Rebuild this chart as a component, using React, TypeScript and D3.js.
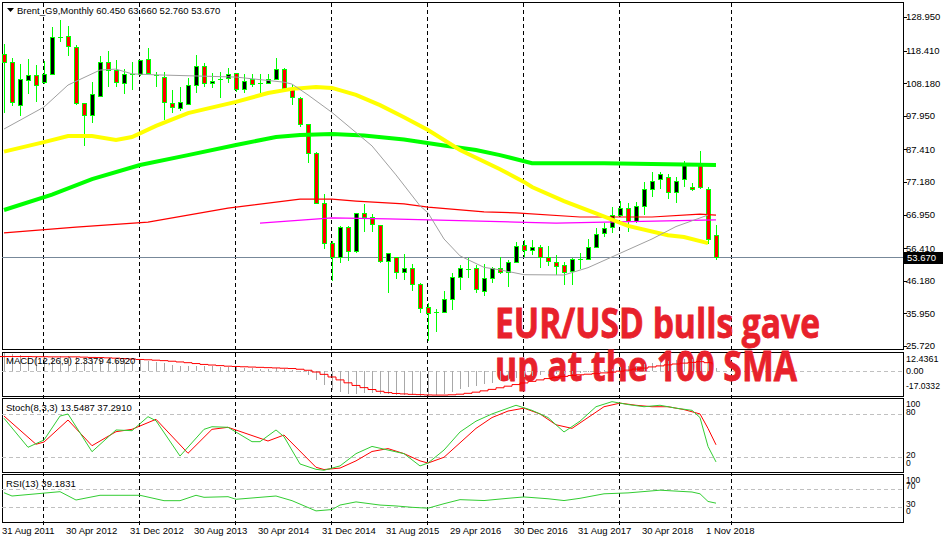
import React from "react";
import * as d3 from "d3";

// ---------- DATA ----------
const symbolTitle = "Brent_G9,Monthly";
const lastOHLC = ["60.450", "63.660", "52.760", "53.670"];
const macdTitle = "MACD(12,26,9) 2.3379 4.6920";
const stochTitle = "Stoch(8,3,3) 13.5487 37.2910";
const rsiTitle = "RSI(13) 39.1831";

const opens = [117.34,114.74,101.34,109.09,110.66,108.46,111.16,122.83,122.99,119.44,101.87,98.20,104.26,114.74,112.23,108.15,110.81,110.97,115.68,110.69,110.22,101.87,100.30,101.65,107.61,113.58,108.15,109.18,109.72,111.28,106.26,109.40,108.24,108.15,109.40,112.54,106.26,103.44,95.38,86.18,70.50,58.00,53.55,62.96,55.62,67.36,66.29,63.59,52.39,53.55,48.94,50.10,45.08,37.86,35.98,36.48,40.37,47.46,49.88,50.10,43.07,46.96,50.10,48.94,51.98,57.32,55.84,56.69,53.74,51.98,51.23,49.16,53.02,53.11,56.88,61.08,62.96,66.82,69.11,64.94,69.65,74.89,78.03,78.65,74.13,78.02,75.70,83.05,74.89,60.45];
const highs = [120.48,116.18,114.20,115.77,113.89,115.14,125.81,128.01,126.13,120.16,101.97,108.56,116.71,118.28,115.46,112.63,114.92,115.46,119.22,111.79,111.79,106.04,107.08,109.72,117.03,114.42,111.47,111.79,112.85,111.38,111.07,111.07,111.07,111.07,115.99,112.85,107.61,103.94,95.38,86.69,73.41,58.67,63.37,63.37,67.45,70.27,67.14,63.69,54.90,53.65,54.59,51.45,45.58,39.12,37.24,42.98,48.53,51.14,53.24,51.14,51.45,50.41,53.74,52.61,58.45,58.98,58.98,57.41,57.10,54.27,51.98,53.24,54.81,59.20,62.65,64.22,69.43,71.31,70.50,71.00,77.27,80.41,80.32,79.69,78.84,83.86,76.77,87.00,75.52,63.66];
const lows = [98.83,101.12,97.98,104.70,102.37,108.08,110.75,121.20,116.81,101.34,88.57,95.60,104.16,107.08,107.08,104.70,106.05,110.44,110.97,107.08,96.63,98.73,99.55,101.34,105.01,107.08,106.58,103.44,108.15,105.51,105.20,106.89,103.94,107.93,109.40,105.51,101.34,94.53,83.05,70.28,56.16,46.21,51.86,52.48,54.81,61.58,61.58,51.86,42.44,46.84,46.43,42.98,36.17,27.38,30.21,36.17,37.02,43.29,46.96,42.44,41.41,45.39,48.31,44.23,51.61,53.55,54.27,50.10,50.82,48.00,44.77,44.77,49.79,52.70,56.69,60.02,61.27,66.10,61.58,64.41,66.82,72.57,74.89,71.75,70.50,75.70,74.45,74.89,57.72,52.76];
const closes = [114.83,102.19,109.40,110.66,107.52,110.97,122.58,122.74,119.85,101.87,98.20,104.69,114.74,112.23,108.46,110.97,110.97,115.36,111.29,110.44,102.37,100.62,102.19,107.61,113.58,108.15,108.96,109.50,110.97,106.26,108.96,107.93,108.15,109.40,112.54,106.77,103.94,95.38,86.18,70.50,57.94,53.55,62.96,55.62,67.36,66.10,63.91,52.48,54.81,48.94,50.10,45.08,37.55,35.98,36.48,40.37,47.46,50.10,49.69,43.51,46.96,50.10,48.94,51.98,57.00,55.84,56.69,53.55,52.30,50.82,48.94,52.92,53.17,56.88,60.86,62.65,66.82,68.93,64.94,69.65,74.89,77.59,79.69,74.13,77.58,83.05,74.89,75.70,59.20,53.67];

const priceTicks = [128.95, 118.41, 108.18, 97.95, 87.41, 77.18, 66.95, 56.41, 46.18, 35.95, 25.72];
const timeLabels = ["31 Aug 2011","30 Apr 2012","31 Dec 2012","30 Aug 2013","30 Apr 2014","31 Dec 2014","31 Aug 2015","29 Apr 2016","30 Dec 2016","31 Aug 2017","30 Apr 2018","1 Nov 2018"];
const gridBars = [5, 17, 29, 41, 53, 65, 77, 91];

// moving averages: [bar index, value]
const smaGray = [[0,93.8],[5,100.7],[8,107.6],[12,112.3],[14,112.6],[16,111.1],[19,110.8],[29,110.1],[35,108.5],[36,107.9],[38,104.5],[41,99.0],[46,88.5],[49,79.4],[52,69.7],[53,67.5],[55,59.3],[57,54.0],[60,50.4],[62,49.6],[65,48.1],[70,48.0],[73,50.3],[77,54.8],[81,59.3],[84,63.2],[88,66.8]];
const smaYellow = [[0,86.7],[5,89.7],[8,91.6],[11,91.6],[14,90.4],[16,91.3],[19,94.8],[23,98.8],[29,102.3],[33,105.1],[36,106.4],[39,107.0],[41,106.7],[44,104.5],[47,101.3],[50,97.5],[53,93.5],[57,87.2],[62,81.2],[65,77.2],[66,75.6],[70,71.2],[74,67.3],[78,63.4],[83,60.5],[85,59.9],[88,58.0]];
const smaGreen = [[0,68.4],[6,73.2],[11,78.1],[17,82.5],[23,85.6],[29,88.8],[34,91.3],[37,91.9],[41,92.2],[45,91.8],[50,90.5],[55,88.6],[59,87.2],[62,85.6],[66,83.1],[75,83.1],[89,82.5]];
const smaRed = [[0,61.2],[9,63.0],[18,64.6],[28,69.0],[37,71.8],[41,71.8],[44,71.2],[50,70.3],[53,69.3],[60,67.8],[64,67.5],[72,66.2],[81,66.2],[87,67.1],[89,66.8]];
const smaMagenta = [[32,64.3],[41,65.9],[48,65.6],[64,64.6],[69,64.3],[89,65.3]];

const macdMain = [12.4,11.6,10.9,10.3,9.9,9.6,9.8,10.3,10.6,9.9,8.6,7.8,7.9,8.0,7.8,7.4,7.1,7.3,7.2,6.6,5.3,4.1,3.3,3.2,3.6,3.5,3.3,3.1,3.0,2.6,2.3,2.0,1.7,1.6,1.9,1.6,0.9,-0.5,-2.8,-6.0,-9.8,-12.8,-14.3,-15.6,-15.6,-15.3,-15.2,-15.8,-15.9,-16.1,-16.2,-16.6,-17.0,-16.9,-16.5,-15.6,-14.2,-12.5,-11.0,-10.0,-9.0,-7.8,-6.9,-5.9,-4.8,-3.9,-3.1,-2.6,-2.2,-2.0,-2.0,-1.7,-1.4,-0.9,-0.2,0.6,1.6,2.5,3.2,3.8,4.7,5.6,6.5,6.9,7.4,8.0,8.0,7.6,5.5,2.34];
const macdSignal = [10.0,10.0,10.0,10.0,9.9,9.9,9.8,9.8,9.8,9.8,9.6,9.4,9.3,9.1,8.9,8.6,8.3,8.0,7.8,7.5,7.2,6.8,6.3,5.8,5.2,4.6,4.2,3.8,3.4,3.2,3.0,2.8,2.6,2.4,2.2,2.0,1.8,1.3,0.6,-0.6,-2.2,-4.0,-6.0,-8.0,-9.8,-11.3,-12.6,-13.8,-14.7,-15.3,-15.6,-15.9,-16.1,-16.3,-16.4,-16.4,-16.2,-15.8,-15.2,-14.4,-13.5,-12.5,-11.4,-10.3,-9.2,-8.1,-7.0,-6.0,-5.1,-4.3,-3.6,-3.0,-2.5,-2.1,-1.7,-1.2,-0.7,0.0,0.7,1.4,2.1,2.9,3.6,4.3,4.9,5.5,6.0,6.5,5.8,4.69];

const stochK = [[0,74.0],[3,33.8],[5,43.9],[7,77.1],[8,79.9],[11,27.7],[14,57.8],[16,56.8],[18,76.2],[19,70.6],[22,21.7],[25,58.7],[26,62.3],[28,61.5],[31,41.6],[32,41.6],[34,57.8],[35,48.5],[37,10.7],[39,3.3],[40,2],[42,8],[44,25],[46,35],[48,30],[50,25],[52,8],[53,12],[55,30],[57,55],[59,70],[61,80],[63,88],[64,92],[66,85],[68,75],[70,55],[72,70],[74,90],[76,97],[78,93],[80,90],[82,92],[84,88],[86,85],[87,75],[88,35],[89,13.5487]];
const stochD = [[0,77.1],[4,38.0],[5,41.1],[8,71.6],[11,36.0],[14,55.4],[16,58.7],[19,72.6],[23,25.5],[26,58.7],[28,61.5],[33,42.5],[35,50.8],[39,6.1],[40,3],[42,5],[44,15],[46,28],[48,32],[50,25],[52,15],[53,12],[55,20],[57,40],[59,60],[61,75],[63,84],[65,88],[67,80],[69,65],[71,60],[73,75],[75,90],[77,95],[79,92],[81,90],[83,90],[85,86],[87,80],[88,60],[89,37.291]];
const rsi = [[0,62.4],[1,55.1],[7,64.7],[9,46.2],[12,56.7],[17,56.7],[20,44.7],[22,44.7],[24,56.7],[25,52.2],[28,53.6],[29,47.8],[31,50.7],[34,55.1],[36,44.7],[39,22],[41,25],[42,35],[44,42],[47,35],[49,33],[51,30],[53,28],[55,38],[57,47],[60,45],[63,50],[65,53],[68,49],[70,45],[72,50],[75,60],[78,62],[80,65],[82,68],[84,66],[86,64],[87,60],[88,43],[89,39.1831]];

const noteLines = ["EUR/USD bulls gave", "up at the 100 SMA"];

// ---------- LAYOUT ----------
const W = 943, H = 542;
const LEFT = 2, RIGHT = 903;
const panels = {
  main: [2, 349],
  macd: [352, 396],
  stoch: [398, 472],
  rsi: [474, 522],
};
const FONT = "'Liberation Sans', Arial, sans-serif";

export default function App() {
  const n = closes.length;
  const x = d3.scaleLinear().domain([0, n - 1]).range([4, 4 + 8 * (n - 1)]);
  const yP = d3.scaleLinear().domain([25.72, 128.95]).range([346, 17]);
  const yM = d3.scaleLinear().domain([-17.0332, 12.4361]).range([396, 353]);
  const yS = d3.scaleLinear().domain([0, 100]).range([471.7, 399.5]);
  const yR = d3.scaleLinear().domain([0, 100]).range([520.8, 475.8]);

  const lineP = d3.line<number[]>().x((d) => x(d[0])).y((d) => yP(d[1]));
  const lineS = d3.line<number[]>().x((d) => x(d[0])).y((d) => yS(d[1]));
  const lineR = d3.line<number[]>().x((d) => x(d[0])).y((d) => yR(d[1]));
  const sigPath = d3
    .line<number>()
    .x((_, i) => x(i) - 4)
    .y((d) => yM(d))
    .curve(d3.curveStepAfter)(macdSignal);

  const lastClose = closes[n - 1];
  const clamp = (v: number, a: number, b: number) => Math.max(a, Math.min(b, v));

  const axisText = (label: string, y: number, key: string, size = 9.5) => (
    <text key={key} x={906} y={y} dy="0.35em" fontSize={size} fontFamily={FONT} fill="#000">
      {label}
    </text>
  );

  return (
    <svg width={W} height={H} style={{ position: "absolute", left: 0, top: 0, background: "#fff" }}>
      <rect x={0} y={0} width={W} height={H} fill="#fff" />

      {/* panel frames */}
      {Object.entries(panels).map(([k, [t, b]]) => (
        <rect key={k} x={LEFT + 0.5} y={t + 0.5} width={RIGHT - LEFT} height={b - t} fill="none" stroke="#000" strokeWidth={1} shapeRendering="crispEdges" />
      ))}

      {/* vertical dashed grid */}
      {gridBars.map((b) => (
        <line key={"g" + b} x1={Math.round(x(b)) - 0.5} x2={Math.round(x(b)) - 0.5} y1={3} y2={526} stroke="#000" strokeDasharray="4,3" strokeWidth={1} shapeRendering="crispEdges" />
      ))}

      {/* indicator level lines */}
      {[80, 20].map((v) => (
        <line key={"sl" + v} x1={LEFT} x2={RIGHT} y1={Math.round(yS(v)) + 0.5} y2={Math.round(yS(v)) + 0.5} stroke="#c0c0c0" strokeDasharray="4,3" shapeRendering="crispEdges" />
      ))}
      {[70, 30].map((v) => (
        <line key={"rl" + v} x1={LEFT} x2={RIGHT} y1={Math.round(yR(v)) + 0.5} y2={Math.round(yR(v)) + 0.5} stroke="#c0c0c0" strokeDasharray="4,3" shapeRendering="crispEdges" />
      ))}
      <line x1={LEFT} x2={RIGHT} y1={Math.round(yM(0)) + 0.5} y2={Math.round(yM(0)) + 0.5} stroke="#c0c0c0" strokeDasharray="4,3" shapeRendering="crispEdges" />

      {/* current price line */}
      <line x1={LEFT} x2={RIGHT} y1={Math.round(yP(lastClose)) + 0.5} y2={Math.round(yP(lastClose)) + 0.5} stroke="#778899" strokeWidth={1} shapeRendering="crispEdges" />

      {/* candles */}
      <g shapeRendering="crispEdges">
        {closes.map((c, i) => {
          const o = opens[i];
          const cx = Math.round(x(i));
          const top = Math.round(yP(Math.max(o, c)));
          const bot = Math.round(yP(Math.min(o, c)));
          const doji = bot - top < 2;
          return (
            <g key={"c" + i}>
              <line x1={cx + 0.5} x2={cx + 0.5} y1={Math.round(yP(highs[i]))} y2={Math.round(yP(lows[i]))} stroke="#00ff00" />
              {doji ? (
                <line x1={cx - 2} x2={cx + 3} y1={top + 0.5} y2={top + 0.5} stroke="#00ff00" />
              ) : (
                <rect x={cx - 1.5} y={top + 0.5} width={4} height={bot - top} fill={c >= o ? "#000" : "#ff0000"} stroke="#00ff00" />
              )}
            </g>
          );
        })}
      </g>

      {/* moving averages */}
      <path d={lineP(smaRed) || ""} fill="none" stroke="#ff0000" strokeWidth={1.2} />
      <path d={lineP(smaMagenta) || ""} fill="none" stroke="#ff00ff" strokeWidth={1.2} />
      <path d={lineP(smaGreen) || ""} fill="none" stroke="#00ff00" strokeWidth={4} />
      <path d={lineP(smaYellow) || ""} fill="none" stroke="#ffff00" strokeWidth={4} />
      <path d={lineP(smaGray) || ""} fill="none" stroke="#a0a0a0" strokeWidth={1} />

      {/* annotation */}
      <text x={495} y={338} fontSize={41} fontWeight="bold" fontFamily="'Open Sans', sans-serif" fill="#e8212b" stroke="#e8212b" strokeWidth={0.8} textLength={325} lengthAdjust="spacingAndGlyphs">
        {noteLines[0]}
      </text>
      <text x={495} y={381} fontSize={41} fontWeight="bold" fontFamily="'Open Sans', sans-serif" fill="#e8212b" stroke="#e8212b" strokeWidth={0.8} textLength={302} lengthAdjust="spacingAndGlyphs">
        {noteLines[1]}
      </text>

      {/* MACD */}
      <g shapeRendering="crispEdges">
        {macdMain.map((v, i) => (
          <line key={"m" + i} x1={Math.round(x(i)) + 0.5} x2={Math.round(x(i)) + 0.5} y1={yM(0)} y2={yM(v)} stroke="#a8a8a8" />
        ))}
      </g>
      <path d={sigPath || ""} fill="none" stroke="#ff0000" strokeWidth={1} />

      {/* Stoch */}
      <path d={lineS(stochD) || ""} fill="none" stroke="#ff0000" strokeWidth={1} />
      <path d={lineS(stochK) || ""} fill="none" stroke="#32cd32" strokeWidth={1} />

      {/* RSI */}
      <path d={lineR(rsi) || ""} fill="none" stroke="#32cd32" strokeWidth={1} />

      {/* header & panel titles */}
      <path d="M7,8 L14,8 L10.5,12 Z" fill="#000" />
      <text x={17} y={11} dy="0.35em" fontSize={9.5} fontFamily={FONT}>
        {symbolTitle + " " + lastOHLC.join(" ")}
      </text>
      <text x={6} y={361} dy="0.35em" fontSize={9.5} fontFamily={FONT}>{macdTitle}</text>
      <text x={6} y={408} dy="0.35em" fontSize={9.5} fontFamily={FONT}>{stochTitle}</text>
      <text x={6} y={484} dy="0.35em" fontSize={9.5} fontFamily={FONT}>{rsiTitle}</text>

      {/* right price axis */}
      <g shapeRendering="crispEdges">
        {priceTicks.map((t) => (
          <line key={"pt" + t} x1={RIGHT} x2={RIGHT + 4} y1={Math.round(yP(t)) + 0.5} y2={Math.round(yP(t)) + 0.5} stroke="#000" />
        ))}
      </g>
      {priceTicks.map((t) => axisText(t.toFixed(3), yP(t), "pl" + t))}
      <rect x={904} y={Math.round(yP(lastClose)) - 5} width={39} height={12} fill="#000" />
      <text x={907} y={Math.round(yP(lastClose)) + 1} dy="0.35em" fontSize={9.5} fontFamily={FONT} fill="#fff">
        {lastClose.toFixed(3)}
      </text>

      {/* indicator axes */}
      {axisText("12.4361", clamp(yM(12.4361), 359, 400), "ma1", 9)}
      {axisText("0.00", yM(0), "ma2", 9)}
      {axisText("-17.0332", clamp(yM(-17.0332), 0, 386), "ma3", 8.6)}
      {[100, 80, 20, 0].map((v) => axisText(String(v), clamp(yS(v) - 2, 404, 463), "sa" + v, 8.5))}
      {[100, 70, 30, 0].map((v) => axisText(String(v), clamp(yR(v) - 3, 480, 511), "ra" + v, 8.5))}

      {/* time axis */}
      {timeLabels.map((t, k) => (
        <text key={"t" + t} x={Math.round(x(8 * k)) - 2} y={531} dy="0.35em" fontSize={9.5} fontFamily={FONT}>
          {t}
        </text>
      ))}
    </svg>
  );
}
